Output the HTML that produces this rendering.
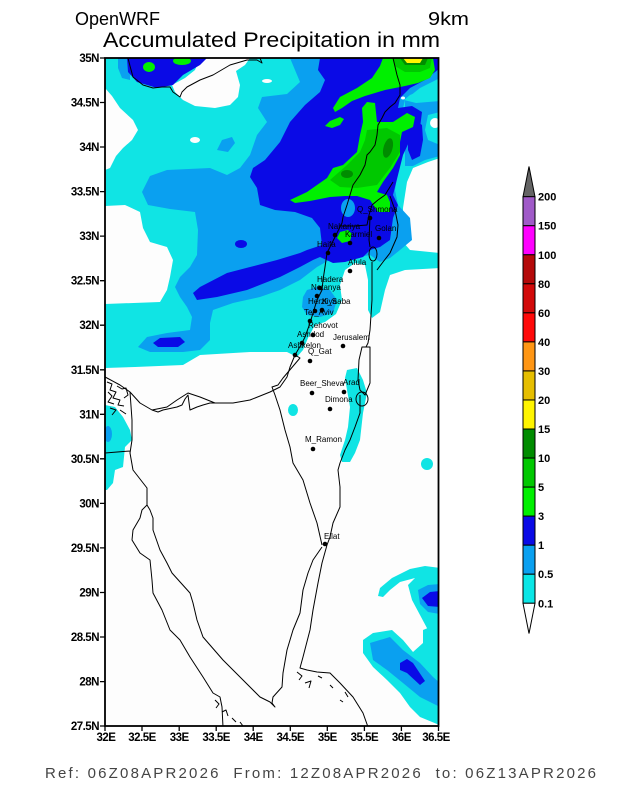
<!DOCTYPE html>
<html><head><meta charset="utf-8"><style>
html,body{margin:0;padding:0;background:#fff;}
svg{display:block;}
text{font-family:"Liberation Sans",sans-serif;}
</style></head><body>
<svg width="618" height="800" viewBox="0 0 618 800" xmlns="http://www.w3.org/2000/svg">
<rect width="618" height="800" fill="#fff"/>
<!-- Titles -->
<text x="75" y="25" font-size="18" textLength="85" lengthAdjust="spacingAndGlyphs">OpenWRF</text>
<text x="428" y="25" font-size="18" textLength="41" lengthAdjust="spacingAndGlyphs">9km</text>
<text x="103" y="47" font-size="21" textLength="337" lengthAdjust="spacingAndGlyphs">Accumulated Precipitation in mm</text>

<defs><clipPath id="mc"><rect x="105" y="58" width="333.5" height="668"/></clipPath></defs>
<g clip-path="url(#mc)">
<rect x="105" y="58" width="334" height="669" fill="#10e4e4"/>
<!-- white regions -->
<g fill="#fdfdfd">
<polygon points="105,368 135,367 183,365 200,355 250,352 287,352 297,357 303,350 308,338 315,325 325,322 336,314 342,300 340,285 345,270 355,263 365,265 368,280 368,310 372,318 380,312 385,290 390,275 405,270 440,268 440,727 105,727"/>
<polygon points="440,158 428,162 413,168 407,182 403,208 403,242 410,250 440,253"/>
<polygon points="105,88 112,96 120,108 133,120 138,130 132,140 123,148 116,156 110,168 105,170"/>
<polygon points="105,206 125,205 140,212 143,228 150,242 167,247 173,260 170,277 167,290 160,302 105,304"/>
<polygon points="200,58 250,58 245,65 236,71 240,85 238,97 230,105 215,108 195,106 183,100 175,92 172,85 185,78 195,70"/>
<ellipse cx="267" cy="81" rx="5" ry="2"/>
<ellipse cx="195" cy="140" rx="5" ry="3"/>
<ellipse cx="233" cy="69" rx="4" ry="2"/>
</g>
<!-- southern cyan patches -->
<g fill="#10e4e4">
<polygon points="105,405 115,407 123,417 130,430 132,440 125,447 123,467 115,470 113,483 107,490 105,490"/>
<polygon points="345,378 347,370 357,368 363,380 367,393 363,413 360,440 355,453 350,462 342,462 340,455 345,440 348,427 350,407 347,390"/>
<ellipse cx="293" cy="410" rx="5" ry="6"/>
<ellipse cx="427" cy="464" rx="6" ry="6"/>
<polygon points="378,596 380,588 392,578 410,569 425,566 440,568 440,640 428,630 420,615 412,600 408,585 415,578 400,582 390,590 383,597"/>
<polygon points="363,640 373,633 392,630 403,640 413,652 423,643 423,630 440,623 440,727 437,724 420,717 410,707 400,693 387,680 373,667 363,653"/>
</g>
<g fill="#0aa0f0">
<ellipse cx="108" cy="434" rx="4" ry="8"/>
<polygon points="418,590 428,585 440,584 440,614 428,612 420,604"/>
<polygon points="370,643 390,637 403,650 420,663 433,677 440,683 440,707 420,697 403,683 387,670 373,660"/>
</g>
<g fill="#0a0ae6">
<polygon points="422,598 430,592 440,591 440,607 428,606"/>
<polygon points="400,663 407,659 413,663 425,681 420,685 407,673 400,670"/>
</g>
<!-- light blue main -->
<g fill="#0aa0f0">
<polygon points="290,58 440,58 440,78 420,88 405,100 402,112 418,112 420,125 410,135 402,150 398,170 395,190 398,205 410,218 412,240 400,250 390,258 380,262 370,255 355,258 333,258 317,267 300,280 280,290 260,297 233,303 213,310 210,323 210,340 200,350 183,352 150,352 138,347 147,337 167,333 190,330 192,317 187,307 180,297 175,287 180,277 190,267 197,255 198,230 195,212 170,209 148,205 142,192 150,176 167,170 210,168 227,175 240,168 250,155 257,135 267,122 258,108 262,97 287,94 300,82 295,70"/>
<polygon points="307,290 317,287 330,290 337,300 333,313 320,317 307,315 302,307 303,297"/>
<polygon points="217,150 222,140 232,137 235,143 228,152"/>
<polygon points="405,100 420,98 440,100 440,112 428,115 425,130 428,140 440,145 440,156 425,160 413,166 405,166"/>
<polygon points="118,58 130,58 130,80 122,78 118,68"/>
</g>
<!-- blue -->
<g fill="#0a0ae6">
<polygon points="320,58 440,58 440,68 425,80 410,88 400,98 398,108 412,106 422,112 420,128 410,140 403,155 398,175 393,195 398,205 393,218 390,240 380,247 370,250 363,257 345,262 333,263 320,257 313,260 300,267 280,277 247,290 217,297 197,300 193,293 200,287 227,273 250,267 277,260 300,253 307,250 322,245 320,228 312,218 295,212 275,210 260,205 257,188 250,177 253,168 265,160 280,142 290,122 305,105 320,92 325,80 318,70"/>
<polygon points="127,58 207,58 200,65 183,75 173,85 157,88 137,82 128,72"/>
<polygon points="153,343 160,338 180,337 185,342 178,347 158,347"/>
<ellipse cx="241" cy="244" rx="6" ry="4"/>
<polygon points="408,125 415,120 422,125 423,140 420,156 412,160 408,150"/>
</g>
<polygon points="440,86 425,89 410,95 404,100 416,103 440,101" fill="#10e4e4"/>
<ellipse cx="403" cy="98" rx="2" ry="1.5" fill="#fdfdfd"/>
<ellipse cx="435" cy="123" rx="5" ry="5" fill="#fdfdfd"/>
<ellipse cx="348" cy="208" rx="7" ry="9" fill="#0aa0f0"/>
<!-- greens -->
<g fill="#00f000">
<polygon points="333,108 340,97 357,88 372,78 380,66 383,58 433,58 435,70 430,78 418,83 405,86 395,88 385,90 375,93 365,96 352,101 342,108 335,112"/>
<polygon points="362,108 367,102 375,103 377,122 393,122 407,113 415,117 413,127 402,132 400,142 400,155 393,168 383,182 377,192 387,195 390,202 390,212 378,212 370,200 357,196 345,196 330,197 310,201 295,203 290,200 307,192 327,178 333,168 343,165 357,152 360,135 363,122"/>
<polygon points="325,126 330,121 340,117 344,119 340,125 332,128"/>
<polygon points="337,238 340,232 348,230 352,234 350,241 342,243"/>
<ellipse cx="149" cy="67" rx="6" ry="5"/>
<ellipse cx="182" cy="61" rx="9" ry="4"/>
</g>
<g fill="#00c800">
<polygon points="367,130 387,128 400,135 400,152 390,168 377,185 357,188 340,187 330,180 347,165 360,152 365,140"/>
<polygon points="393,58 432,58 430,68 420,72 405,72 395,66"/>
</g>
<g fill="#008c00">
<ellipse cx="388" cy="148" rx="4.5" ry="10" transform="rotate(15 388 148)"/>
<ellipse cx="347" cy="174" rx="6" ry="4"/>
<polygon points="400,58 428,58 425,65 405,65"/>
</g>
<polygon points="403,58 423,58 420,63 407,63" fill="#fff500"/>

<!-- coastlines & borders -->
<g fill="none" stroke="#000" stroke-width="1" stroke-linejoin="round">
<path d="M128,58 L130,66 L133,77 L143,85 L153,88 L162,87 L170,87 L173,92 L180,97 L182,92 L187,87 L200,80 L213,75 L230,65 L247,60 L257,60 L262,63 L260,58"/>
<path d="M393,58 L397,75 L400,85 L400,95 L395,103 L390,107 L385,112 L382,118 L378,125 L377,135 L375,145 L370,152 L367,155 L365,165 L360,175 L353,185 L350,195 L347,205 L343,217 L342,223 L337,233 L330,247 L327,253 L325,267 L323,280 L322,290 L317,300 L313,313 L310,323 L305,337 L302,343 L295,355 L290,367 L287,377 L280,387 L270,392 L250,400 L233,403 L215,403 L200,397 L188,393 L177,400 L167,407 L152,410 L140,403 L130,392 L120,385 L107,378 L105,377"/>
<path d="M152,410 L158,412 L163,410 L177,407 L182,405 L185,399 L188,395 L190,410 L197,407 L203,405 L210,403 L215,403"/>
<path d="M107,382 L112,384 L110,390 L116,392 L113,398 L120,400 L118,405 L124,406 M108,392 L112,396 L108,402 L114,404 M117,386 L122,389 L126,388 L128,395 L124,398 M110,408 L116,410 L112,415 M120,410 L126,414"/>
<path d="M295,355 L300,358 L283,378 L278,385 L272,387 L275,395 L280,410 L285,430 L290,447 L293,463 L303,480 L310,503 L317,523 L322,545"/>
<path d="M322,547 L313,560 L308,573 L303,590 L300,613 L293,630 L287,650 L283,673 L282,687 L273,697 L272,703 L275,707 L270,702 L260,697 L243,680 L223,660 L203,637 L197,620 L193,603 L190,593 L172,573 L167,563 L160,550 L153,530 L153,518 L150,510 L147,505"/>
<path d="M147,505 L142,510 L140,518 L133,530 L132,540 L140,553 L150,560 L152,580 L153,593 L162,610 L170,630 L180,640 L190,657 L203,677 L213,693 L220,697 L222,707 L223,727"/>
<path d="M327,545 L322,563 L318,583 L313,610 L310,630 L303,657 L300,668 L307,670 L317,672 L330,673 L340,683 L353,697 L363,713 L368,727"/>
<path d="M297,672 L302,676 L299,680 M305,683 L311,681 L309,688 M318,676 L322,678 M330,685 L333,688 M345,692 L348,697 M340,700 L343,702"/>
<path d="M215,700 L219,704 L216,708 M222,712 L226,710 L228,716 M232,718 L236,722 M240,722 L243,726"/>
<path d="M130,392 L132,420 L132,440 L130,453 L133,470 L147,488 L147,505 M105,453 L130,451"/>
<path d="M342,226 L355,226 L367,225 L369,215 L372,205 L378,200 L385,195 L393,182"/>
<path d="M390,196 L395,210 L398,225 L397,237 L390,253 L383,262 L377,270"/>
<path d="M370,217 L369,240 L370,247"/>
<ellipse cx="373" cy="254" rx="4" ry="7"/>
<path d="M372,262 L372,300 L370,330 L368,343 L366,347"/>
<path d="M362,347 L370,347 L370,383 L365,395 L360,390 L358,380 L359,360 Z"/>
<ellipse cx="362" cy="399" rx="6" ry="7"/>
<path d="M360,395 L360,413 L355,427 L350,440 L345,450 L340,463 L338,470 L340,487 L340,507 L333,523 L330,537 L327,545"/>
</g>
<!-- cities -->
<g fill="#000">
<circle cx="370" cy="218" r="2.3"/><circle cx="335" cy="235" r="2.3"/><circle cx="350" cy="243" r="2.3"/>
<circle cx="379" cy="238" r="2.3"/><circle cx="328" cy="253" r="2.3"/><circle cx="350" cy="271" r="2.3"/>
<circle cx="320" cy="288" r="2.3"/><circle cx="317" cy="296" r="2.3"/><circle cx="315" cy="311" r="2.3"/>
<circle cx="322" cy="310" r="2.3"/><circle cx="310" cy="321" r="2.3"/><circle cx="313" cy="335" r="2.3"/>
<circle cx="302" cy="343" r="2.3"/><circle cx="295" cy="355" r="2.3"/><circle cx="310" cy="361" r="2.3"/>
<circle cx="343" cy="346" r="2.3"/><circle cx="312" cy="393" r="2.3"/><circle cx="344" cy="392" r="2.3"/>
<circle cx="330" cy="409" r="2.3"/><circle cx="313" cy="449" r="2.3"/><circle cx="325" cy="544" r="2.3"/>
</g>
<g font-size="8" fill="#000">
<text x="357" y="212">Q_Shmona</text>
<text x="328" y="229">Nahariya</text>
<text x="345" y="237">Karmiel</text>
<text x="375" y="231">Golan</text>
<text x="317" y="247">Haifa</text>
<text x="348" y="265">Afula</text>
<text x="317" y="282">Hadera</text>
<text x="311" y="290">Netanya</text>
<text x="308" y="304">Herzliya</text>
<text x="322" y="304">K_Saba</text>
<text x="304" y="315">Tel_Aviv</text>
<text x="308" y="328">Rehovot</text>
<text x="297" y="337">Ashdod</text>
<text x="333" y="340">Jerusalem</text>
<text x="288" y="348">Ashkelon</text>
<text x="308" y="354">Q_Gat</text>
<text x="300" y="386">Beer_Sheva</text>
<text x="343" y="385">Arad</text>
<text x="325" y="402">Dimona</text>
<text x="305" y="442">M_Ramon</text>
<text x="324" y="539">Eilat</text>
</g>
</g>
<!-- frame -->
<rect x="105" y="58" width="333.5" height="668" fill="none" stroke="#000" stroke-width="1.8"/>
<g stroke="#000" stroke-width="1.3">
<path d="M100,58H105M100,102.5H105M100,147H105M100,191.6H105M100,236.1H105M100,280.7H105M100,325.2H105M100,369.8H105M100,414.3H105M100,458.8H105M100,503.4H105M100,547.9H105M100,592.5H105M100,637H105M100,681.6H105M100,726H105"/>
<path d="M105,726V731M142,726V731M179.2,726V731M216.2,726V731M253.2,726V731M290.3,726V731M327.3,726V731M364.4,726V731M401.4,726V731M438.5,726V731"/>
</g>
<g font-size="11.5" font-weight="bold" text-anchor="end" letter-spacing="-0.5">
<text x="99" y="62">35N</text><text x="99" y="106.5">34.5N</text><text x="99" y="151">34N</text>
<text x="99" y="195.6">33.5N</text><text x="99" y="240.1">33N</text><text x="99" y="284.7">32.5N</text>
<text x="99" y="329.2">32N</text><text x="99" y="373.8">31.5N</text><text x="99" y="418.3">31N</text>
<text x="99" y="462.8">30.5N</text><text x="99" y="507.4">30N</text><text x="99" y="551.9">29.5N</text>
<text x="99" y="596.5">29N</text><text x="99" y="641">28.5N</text><text x="99" y="685.6">28N</text>
<text x="99" y="730">27.5N</text>
</g>
<g font-size="11.5" font-weight="bold" text-anchor="middle" letter-spacing="-0.5">
<text x="106" y="741">32E</text><text x="142" y="741">32.5E</text><text x="179.2" y="741">33E</text>
<text x="216.2" y="741">33.5E</text><text x="253.2" y="741">34E</text><text x="290.3" y="741">34.5E</text>
<text x="327.3" y="741">35E</text><text x="364.4" y="741">35.5E</text><text x="401.4" y="741">36E</text>
<text x="436" y="741">36.5E</text>
</g>
<!-- colorbar -->
<g stroke="#000" stroke-width="1">
<polygon points="523,196.7 535,196.7 529,166.5" fill="#646464"/>
<rect x="523" y="196.7" width="12" height="29.04" fill="#a05ac8"/>
<rect x="523" y="225.74" width="12" height="29.04" fill="#ff00ff"/>
<rect x="523" y="254.78" width="12" height="29.04" fill="#b40a0a"/>
<rect x="523" y="283.82" width="12" height="29.04" fill="#d20a0a"/>
<rect x="523" y="312.86" width="12" height="29.04" fill="#ff0a0a"/>
<rect x="523" y="341.9" width="12" height="29.04" fill="#ff9614"/>
<rect x="523" y="370.94" width="12" height="29.04" fill="#e6be00"/>
<rect x="523" y="399.98" width="12" height="29.04" fill="#fff500"/>
<rect x="523" y="429.02" width="12" height="29.04" fill="#008c00"/>
<rect x="523" y="458.06" width="12" height="29.04" fill="#00c800"/>
<rect x="523" y="487.1" width="12" height="29.04" fill="#00f000"/>
<rect x="523" y="516.14" width="12" height="29.04" fill="#0a0ae6"/>
<rect x="523" y="545.18" width="12" height="29.04" fill="#0aa0f0"/>
<rect x="523" y="574.22" width="12" height="29.04" fill="#0ae6e6"/>
<polygon points="523,603.26 535,603.26 529,633.5" fill="#fff"/>
</g>
<g font-size="11" font-weight="bold">
<text x="538" y="200.7">200</text><text x="538" y="229.7">150</text><text x="538" y="258.8">100</text>
<text x="538" y="287.8">80</text><text x="538" y="316.9">60</text><text x="538" y="345.9">40</text>
<text x="538" y="374.9">30</text><text x="538" y="404">20</text><text x="538" y="433">15</text>
<text x="538" y="462.1">10</text><text x="538" y="491.1">5</text><text x="538" y="520.1">3</text>
<text x="538" y="549.2">1</text><text x="538" y="578.2">0.5</text><text x="538" y="607.3">0.1</text>
</g>
<!-- footer -->
<text x="45" y="778" font-size="15" fill="#444" textLength="551" lengthAdjust="spacing" xml:space="preserve">Ref: 06Z08APR2026  From: 12Z08APR2026  to: 06Z13APR2026</text>
</svg>
</body></html>
